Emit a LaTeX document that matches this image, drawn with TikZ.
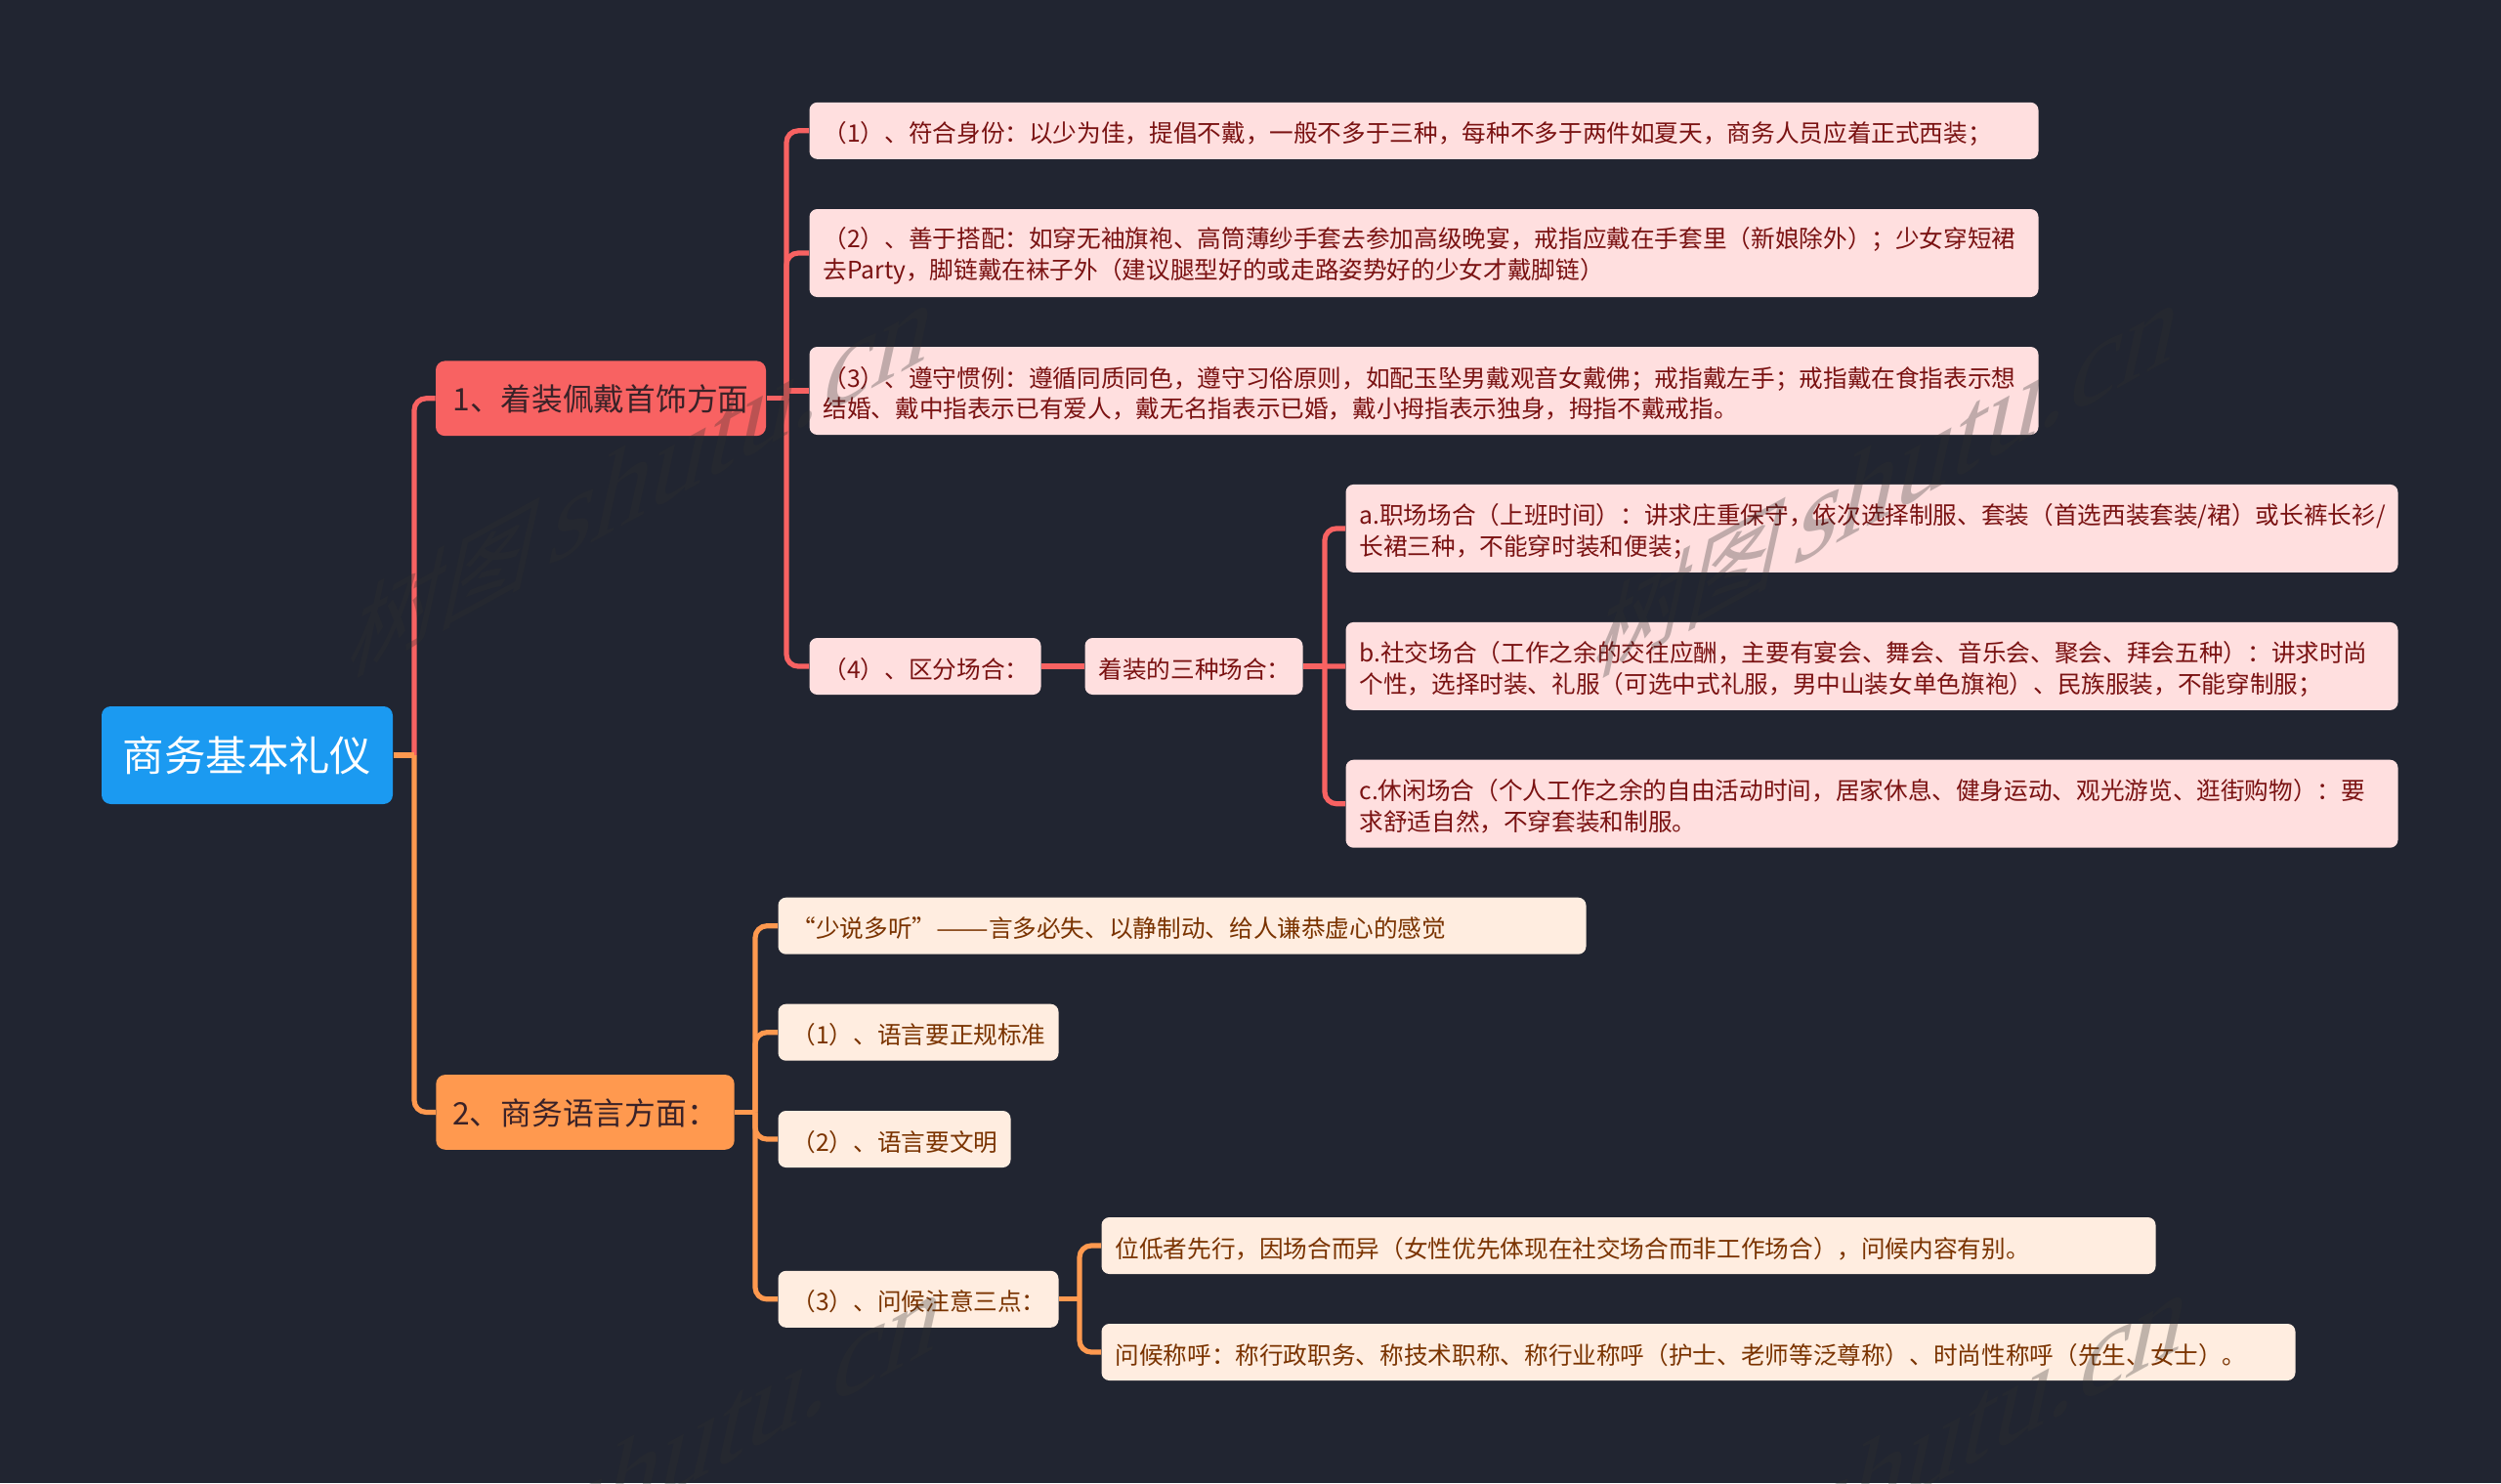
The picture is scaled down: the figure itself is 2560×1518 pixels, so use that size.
\documentclass[tikz,border=0pt]{standalone}
\usepackage{graphicx}
\usepackage{fontspec}
\setmainfont{Noto Sans CJK SC}
\newfontfamily\stampfont{Liberation Serif}

\definecolor{bgdark}{HTML}{212531}
\definecolor{rootblue}{HTML}{1B9AF1}
\definecolor{linered}{HTML}{F86262}
\definecolor{fillred}{HTML}{FFDFDF}
\definecolor{textred}{HTML}{7A1212}
\definecolor{lineorange}{HTML}{FF994F}
\definecolor{fillorange}{HTML}{FFEDE0}
\definecolor{textorange}{HTML}{7A3300}
\definecolor{textdark}{HTML}{3A2228}
\definecolor{stampgray}{HTML}{303030}

\tikzset{every picture/.style={line width=0.75pt}}
\tikzset{
  box/.style 2 args={rectangle, rounded corners=6pt, anchor=west, align=left, inner ysep=0pt, inner xsep=10.5pt,
    text width=(#1-28)*0.75pt, minimum height=#2*0.75pt, execute at begin node={\rule{0pt}{20pt}}},
  rootbox/.style={rectangle, rounded corners=7pt, fill=rootblue, text=white, anchor=center, inner sep=0pt,
    minimum width=223.5pt, minimum height=75pt, font=\fontsize{31.8}{38}\selectfont},
  mainbox/.style={rectangle, rounded corners=7pt, anchor=center, inner sep=0pt, text=textdark,
    minimum height=57.5pt, text height=24pt, text depth=4.5pt, font=\fontsize{23.8}{30}\selectfont},
  leafred/.style={fill=fillred, text=textred, font=\fontsize{18.48}{23.75}\selectfont},
  leaforange/.style={fill=fillorange, text=textorange, font=\fontsize{18.48}{23.75}\selectfont},
  stublink/.style={line width=3.9pt},
  linkred/.style={draw=linered, stublink, rounded corners=9pt},
  linkorange/.style={draw=lineorange, stublink, rounded corners=9pt},
  stamp/.style={text=stampgray, opacity=0.3, anchor=base west, inner sep=0pt, yslant=0.55, xslant=0.25,
    font=\fontsize{71}{80}\selectfont}
}

\begin{document}
\begin{tikzpicture}[x=0.75pt,y=0.75pt,yscale=-1,xscale=1]
\useasboundingbox (0,0) rectangle (2560,1518);
\fill[bgdark] (0,0) rectangle (2560,1518);

%Trunk positions
\coordinate (trunkroot) at (424,0);
\coordinate (trunkone) at (805,0);
\coordinate (trunkfour) at (1356,0);
\coordinate (trunktwo) at (773,0);
\coordinate (trunkthree) at (1105,0);

% Text Node
\node (root) [rootbox] at (253,773) {商务基本礼仪};
% Text Node
\node (one) [mainbox, fill=linered, minimum width=253.5pt] at (615,407.8) {1、着装佩戴首饰方面};
% Text Node
\node (two) [mainbox, fill=lineorange, minimum width=229pt] at (599,1138.4) {2、商务语言方面：};

% Text Node
\node (a1) [box={1258}{58}, leafred] at (828,133.8) {（1）、符合身份：以少为佳，提倡不戴，一般不多于三种，每种不多于两件如夏天，商务人员应着正式西装；};
% Text Node
\node (a2) [box={1258}{90}, leafred] at (828,259) {（2）、善于搭配：如穿无袖旗袍、高筒薄纱手套去参加高级晚宴，戒指应戴在手套里（新娘除外）；少女穿短裙\\去Party，脚链戴在袜子外（建议腿型好的或走路姿势好的少女才戴脚链）};
% Text Node
\node (a3) [box={1258}{90}, leafred] at (828,400) {（3）、遵守惯例：遵循同质同色，遵守习俗原则，如配玉坠男戴观音女戴佛；戒指戴左手；戒指戴在食指表示想\\结婚、戴中指表示已有爱人，戴无名指表示已婚，戴小拇指表示独身，拇指不戴戒指。};
% Text Node
\node (a4) [box={237}{58}, leafred] at (828,682) {（4）、区分场合：};
% Text Node
\node (place) [box={223}{58}, leafred] at (1110,682) {着装的三种场合：};
% Text Node
\node (c1) [box={1077}{90}, leafred] at (1377,540.9) {a.职场场合（上班时间）：讲求庄重保守，依次选择制服、套装（首选西装套装/裙）或长裤长衫/\\长裙三种，不能穿时装和便装；};
% Text Node
\node (c2) [box={1077}{90}, leafred] at (1377,681.9) {b.社交场合（工作之余的交往应酬，主要有宴会、舞会、音乐会、聚会、拜会五种）：讲求时尚\\个性，选择时装、礼服（可选中式礼服，男中山装女单色旗袍）、民族服装，不能穿制服；};
% Text Node
\node (c3) [box={1077}{90}, leafred] at (1377,822.7) {c.休闲场合（个人工作之余的自由活动时间，居家休息、健身运动、观光游览、逛街购物）：要\\求舒适自然，不穿套装和制服。};

% Text Node
\node (d0) [box={827}{58}, leaforange] at (796,947.7) {“少说多听”\scalebox{1.3}[1]{——}言多必失、以静制动、给人谦恭虚心的感觉};
% Text Node
\node (d1) [box={287}{58}, leaforange] at (796,1056.7) {（1）、语言要正规标准};
% Text Node
\node (d2) [box={238}{58}, leaforange] at (796,1166) {（2）、语言要文明};
% Text Node
\node (d3) [box={287}{58}, leaforange] at (796,1329.8) {（3）、问候注意三点：};
% Text Node
\node (e1) [box={1079}{58}, leaforange] at (1127,1275) {位低者先行，因场合而异（女性优先体现在社交场合而非工作场合），问候内容有别。};
% Text Node
\node (e2) [box={1222}{58}, leaforange] at (1127,1384) {问候称呼：称行政职务、称技术职称、称行业称呼（护士、老师等泛尊称）、时尚性称呼（先生、女士）。};

%Straight Lines
\draw [linkred] (trunkroot |- root.east) |- (one.west);
\draw [linkorange] (trunkroot |- root.east) |- (two.west);
\draw [draw=lineorange, stublink] (root.east) -- (trunkroot |- root.east);

%Straight Lines
\draw [linkred] (one.east) -- (trunkone |- one.east);
\draw [linkred] (trunkone |- one.east) |- (a1.west);
\draw [linkred] (trunkone |- one.east) |- (a2.west);
\draw [linkred] (trunkone |- a3.west) -- (a3.west);
\draw [linkred] (trunkone |- one.east) |- (a4.west);
\draw [linkred] (a4.east) -- (place.west);
\draw [linkred] (place.east) -- (trunkfour |- place.east);
\draw [linkred] (trunkfour |- place.east) |- (c1.west);
\draw [linkred] (trunkfour |- place.east) -- (c2.west);
\draw [linkred] (trunkfour |- place.east) |- (c3.west);

%Straight Lines
\draw [linkorange] (two.east) -- (trunktwo |- two.east);
\draw [linkorange] (trunktwo |- two.east) |- (d0.west);
\draw [linkorange] (trunktwo |- two.east) |- (d1.west);
\draw [linkorange] (trunktwo |- two.east) |- (d2.west);
\draw [linkorange] (trunktwo |- two.east) |- (d3.west);
\draw [linkorange] (d3.east) -- (trunkthree |- d3.east);
\draw [linkorange] (trunkthree |- d3.east) |- (e1.west);
\draw [linkorange] (trunkthree |- d3.east) |- (e2.west);

% Text Node
\node (stampa) [stamp] at (352,695) {树图\,{\stampfont\fontsize{87}{90}\selectfont shutu.cn}};
% Text Node
\node (stampb) [stamp] at (1627,695) {树图\,{\stampfont\fontsize{87}{90}\selectfont shutu.cn}};
% Text Node
\node (stampc) [stamp] at (361,1708) {树图\,{\stampfont\fontsize{87}{90}\selectfont shutu.cn}};
% Text Node
\node (stampd) [stamp] at (1636,1708) {树图\,{\stampfont\fontsize{87}{90}\selectfont shutu.cn}};

\end{tikzpicture}
\end{document}
